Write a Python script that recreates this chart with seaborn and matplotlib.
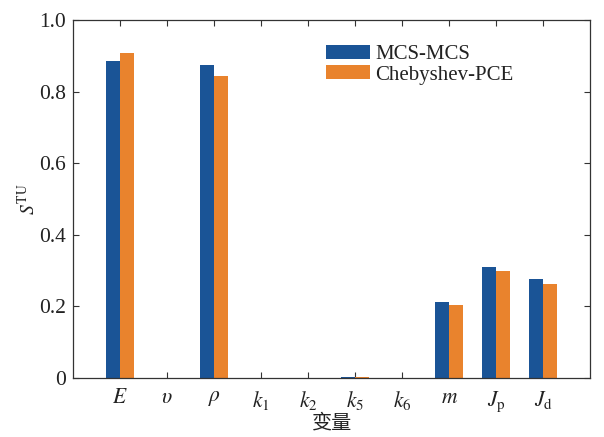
import pandas as pd
import seaborn as sns
import matplotlib.pyplot as plt

# data
variables = ['$E$', r'$\upsilon$', r'$\rho$', '$k_1$', '$k_2$', '$k_5$', '$k_6$', '$m$',
             r'$J_\mathrm{p}$', r'$J_\mathrm{d}$']
mcs_mcs = [0.885, 0.0, 0.874, 0.0, 0.0, 0.003, 0.0, 0.212, 0.311, 0.276]
cheb_pce = [0.908, 0.0, 0.844, 0.0, 0.0, 0.003, 0.0, 0.203, 0.299, 0.264]
methods = ['MCS-MCS', 'Chebyshev-PCE']
colors = ['#1a5496', '#e9832d']

df = pd.DataFrame({
    'var': variables * 2,
    'val': mcs_mcs + cheb_pce,
    'method': [methods[0]] * len(variables) + [methods[1]] * len(variables),
})

sns.set_style('ticks')
plt.rcParams['font.family'] = ['Liberation Serif', 'Noto Sans CJK SC']
plt.rcParams['mathtext.fontset'] = 'stix'

fig, ax = plt.subplots(figsize=(6.04, 4.37), dpi=100)
fig.subplots_adjust(left=0.121, right=0.977, top=0.954, bottom=0.135)

sns.barplot(data=df, x='var', y='val', hue='method', palette=colors,
            width=0.6, saturation=1, ax=ax, linewidth=0)

ax.set_xlim(-1, 10)
ax.set_ylim(0, 1.0)
ax.set_yticks([0, 0.2, 0.4, 0.6, 0.8, 1.0])
ax.set_yticklabels(['0', '0.2', '0.4', '0.6', '0.8', '1.0'])
ax.tick_params(direction='in', length=4, width=0.8, top=True, right=True,
               labelsize=15.5, colors='#333333', labelcolor='#222222')
ax.tick_params(axis='x', pad=8, labelsize=15.5)
ax.tick_params(axis='y', pad=5)
for s in ax.spines.values():
    s.set_color('#333333')
    s.set_linewidth(0.9)

ax.set_xlabel('变量', fontsize=14.5, color='#222222')
ax.xaxis.label.set_verticalalignment('center')
ax.xaxis.set_label_coords(0.5, -0.128)
ax.set_ylabel(r'$S^{\mathrm{TU}}$', fontsize=14, color='#222222', labelpad=0)

leg = ax.legend(loc='upper left', bbox_to_anchor=(0.49, 0.93), frameon=False,
                fontsize=15, handlelength=2.1, handleheight=0.65,
                handletextpad=0.25, labelspacing=0.05, borderaxespad=0, borderpad=0)
for t in leg.get_texts():
    t.set_color('#222222')

fig.savefig('out.png', dpi=100)
